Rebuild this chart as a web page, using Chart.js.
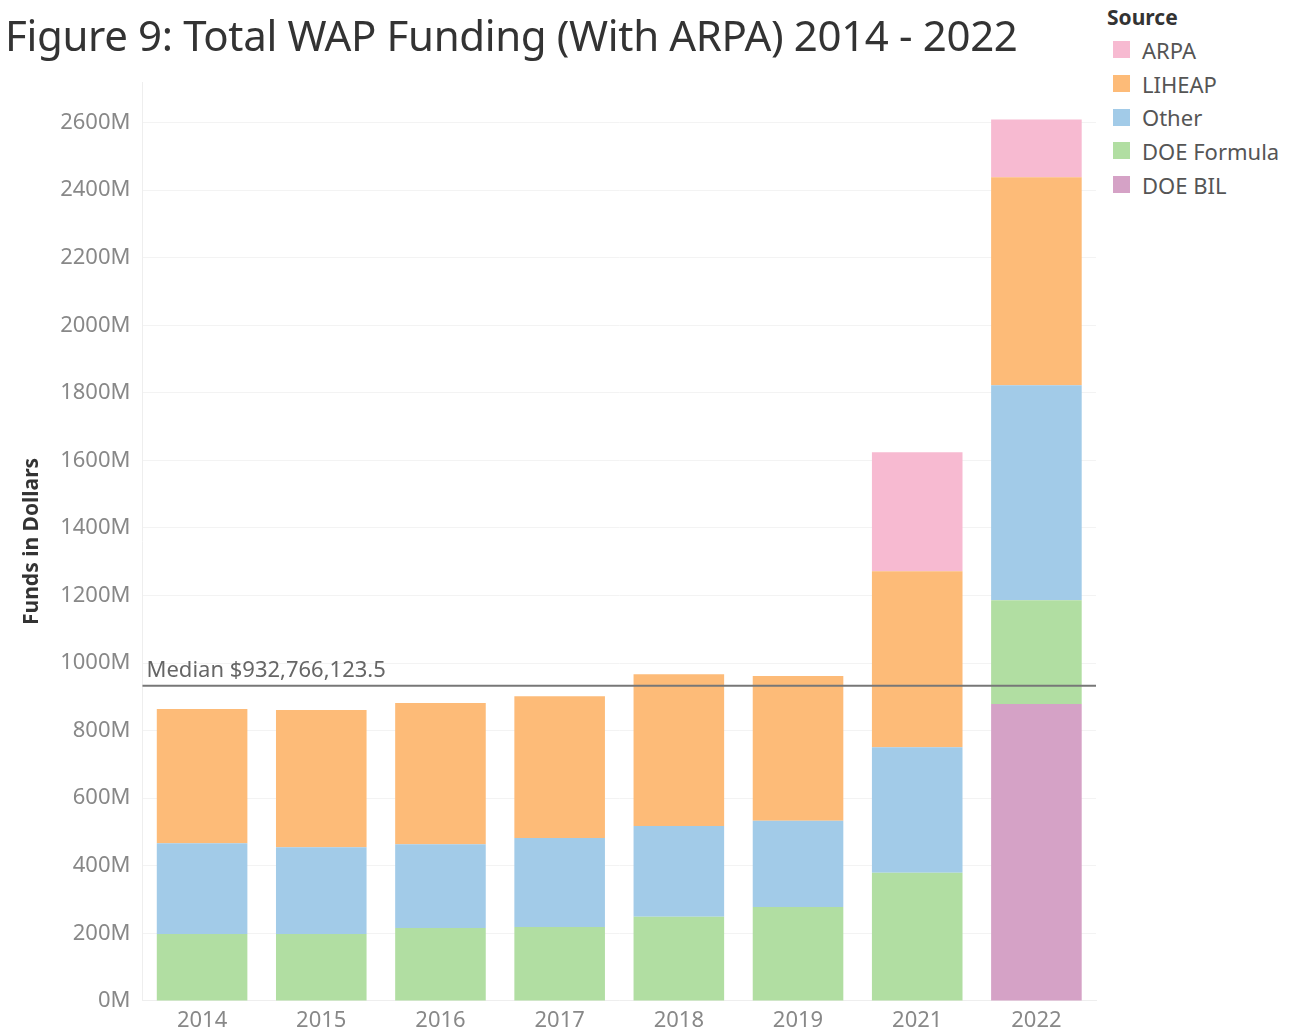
<!DOCTYPE html>
<html>
<head>
<meta charset="utf-8">
<script src="https://cdn.jsdelivr.net/npm/chart.js@4.4.1/dist/chart.umd.min.js"></script>
<style>
  body { margin: 0; background: #fff; font-family: "Noto Sans", sans-serif; }
  #title { position: absolute; left: 5px; top: 6px; font-size: 42px; color: #333; letter-spacing: -0.35px; }
  #wrap { position: absolute; left: 0; top: 0; width: 1100px; height: 1036px; }
  #legend { position: absolute; left: 1107px; top: 3px; color: #555; }
  #legend .head { font-size: 21px; font-weight: bold; color: #333; margin-bottom: 2px; }
  #legend .item { display: flex; align-items: center; height: 33.7px; font-size: 22px; margin-left: 6px; }
  #legend .sw { width: 17px; height: 17px; margin-right: 12px; }
</style>
</head>
<body>
<div id="wrap"><canvas id="chart"></canvas></div>
<div id="title">Figure 9: Total WAP Funding (With ARPA) 2014 - 2022</div>
<div id="legend"><div class="head">Source</div></div>
<script>
const years = ["2014", "2015", "2016", "2017", "2018", "2019", "2021", "2022"];

// values in millions of dollars, stacked bottom to top
const doeBil     = [0, 0, 0, 0, 0, 0, 0, 879];
const doeFormula = [198, 198, 216, 219, 249, 278, 379, 307];
const other      = [269, 257, 248, 263, 269, 255, 372, 636];
const liheap     = [397, 406, 418, 420, 449, 429, 521, 616];
const arpa       = [0, 0, 0, 0, 0, 0, 352, 171];

const median = 932.7661235;
const medianLabel = "Median $932,766,123.5";

const series = [
  { label: "DOE BIL", data: doeBil, color: "#d5a2c6" },
  { label: "DOE Formula", data: doeFormula, color: "#b1dea2" },
  { label: "Other", data: other, color: "#a2cbe8" },
  { label: "LIHEAP", data: liheap, color: "#fdbb78" },
  { label: "ARPA", data: arpa, color: "#f7bad1" }
];

// legend lists the top of the stack first
const legend = document.getElementById("legend");
series.slice().reverse().forEach(s => {
  const row = document.createElement("div");
  row.className = "item";
  row.innerHTML = `<span class="sw" style="background:${s.color}"></span>${s.label}`;
  legend.appendChild(row);
});

const medianLine = {
  id: "medianLine",
  afterDatasetsDraw(chart) {
    const { ctx, chartArea, scales } = chart;
    const y = scales.y.getPixelForValue(median);
    ctx.save();
    ctx.strokeStyle = "#777";
    ctx.lineWidth = 2;
    ctx.beginPath();
    ctx.moveTo(chartArea.left, y);
    ctx.lineTo(chartArea.right, y);
    ctx.stroke();
    ctx.fillStyle = "#666";
    ctx.font = '22px "Noto Sans"';
    ctx.textBaseline = "bottom";
    ctx.fillText(medianLabel, chartArea.left + 4, y - 4);
    ctx.restore();
  }
};

new Chart(document.getElementById("chart"), {
  type: "bar",
  data: {
    labels: years,
    datasets: series.map(s => ({
      label: s.label,
      data: s.data,
      backgroundColor: s.color,
      borderWidth: 0,
      barPercentage: 0.76,
      categoryPercentage: 1
    }))
  },
  options: {
    responsive: true,
    maintainAspectRatio: false,
    animation: false,
    layout: { padding: { top: 82, right: 4, bottom: 4, left: 15 } },
    plugins: { legend: { display: false }, tooltip: { enabled: false } },
    scales: {
      x: {
        stacked: true,
        grid: { display: false },
        border: { color: "#eee" },
        ticks: { color: "#888", font: { size: 22, family: "Noto Sans", lineHeight: 1.05 }, padding: 0 }
      },
      y: {
        stacked: true,
        min: 0,
        max: 2720,
        afterBuildTicks: scale => { scale.ticks = scale.ticks.filter(t => t.value % 200 === 0); },
        grid: { color: "#f3f3f3", drawTicks: false },
        border: { color: "#eee" },
        ticks: { stepSize: 200, color: "#888", padding: 12, font: { size: 22, family: "Noto Sans" }, callback: v => v + "M" },
        title: { display: true, text: "Funds in Dollars", color: "#333", font: { size: 21, weight: "bold", family: "Noto Sans" }, padding: 4 }
      }
    }
  },
  plugins: [medianLine]
});
</script>
</body>
</html>
